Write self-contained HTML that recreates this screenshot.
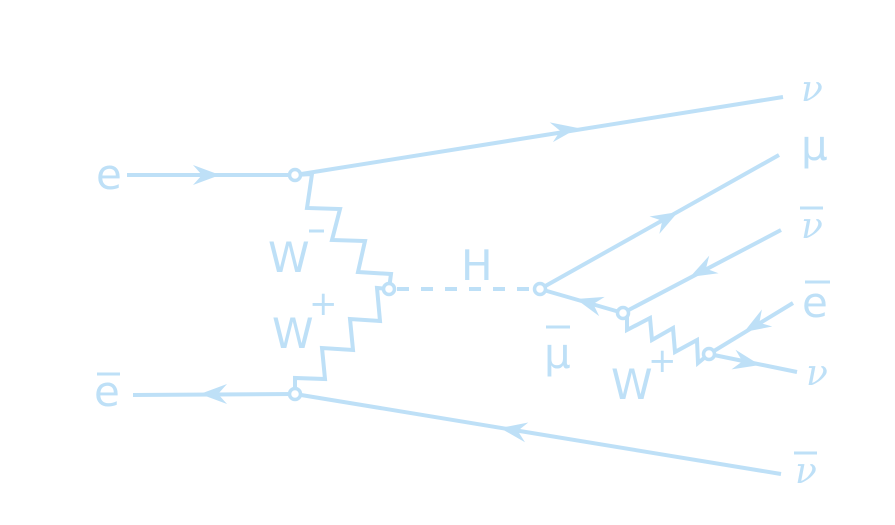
<!DOCTYPE html>
<html><head><meta charset="utf-8"><style>
html,body{margin:0;padding:0;background:#fff;}
svg{display:block;}
text{fill:#bee0f7;font-family:"DejaVu Sans","Liberation Sans",sans-serif;font-size:42px;font-weight:normal;}
.g{font-family:"DejaVu Serif","Liberation Serif",serif;font-style:italic;font-size:36px;}
.s{font-size:34px;}
</style></head><body>
<svg id="c" width="895" height="525" viewBox="0 0 895 525" xmlns="http://www.w3.org/2000/svg">
<g fill="none" stroke="#bee0f7" stroke-width="4" stroke-linejoin="miter">
<line x1="127" y1="175" x2="295" y2="175"/>
<line x1="295" y1="175" x2="783" y2="97"/>
<line x1="133" y1="395" x2="295" y2="394"/>
<line x1="295" y1="394" x2="781" y2="474"/>
<line x1="540" y1="289" x2="779" y2="155"/>
<line x1="781" y1="230" x2="623" y2="313"/>
<line x1="623" y1="313" x2="540" y2="289"/>
<line x1="793" y1="303" x2="709" y2="354"/>
<line x1="709" y1="354" x2="797" y2="372"/>
<polyline points="295,175 312,174 307,208 340,209 332,240 365,241 358,272 391,274 389,289"/>
<polyline points="389,289 377,288 380,321 350,319 353,350 322,348 325,379 295,378 295,394"/>
<polyline points="623,313 627,318 627,330 650,318 652,340 673,328 675,352 697,340 698,363 709,354"/>
<line x1="389" y1="289" x2="540" y2="289" stroke-dasharray="12,12" stroke-dashoffset="-8"/>
</g>
<g id="arrows" fill="#bee0f7"></g>
<g fill="#fff" stroke="#bee0f7" stroke-width="3.5">
<circle cx="295" cy="175" r="5.5"/>
<circle cx="389" cy="289" r="5.5"/>
<circle cx="295" cy="394" r="5.5"/>
<circle cx="540" cy="289" r="5.5"/>
<circle cx="623" cy="313" r="5.5"/>
<circle cx="709" cy="354" r="5.5"/>
</g>
<text x="96" y="189">e</text>
<text x="94" y="406">e</text>
<line x1="97" y1="374" x2="120" y2="374" stroke="#bee0f7" stroke-width="3"/>
<text x="268" y="272">W</text>
<line x1="309" y1="231" x2="324" y2="231" stroke="#bee0f7" stroke-width="3"/>
<text x="272" y="348">W</text>
<text class="s" x="309" y="315">+</text>
<text x="461" y="280">H</text>
<text x="544" y="368">μ</text>
<line x1="546" y1="327" x2="570" y2="327" stroke="#bee0f7" stroke-width="3"/>
<text x="611" y="399">W</text>
<text class="s" x="648" y="372">+</text>
<text class="g" x="801" y="101">ν</text>
<text x="801" y="160">μ</text>
<text class="g" x="801" y="238">ν</text>
<line x1="800" y1="208" x2="823" y2="208" stroke="#bee0f7" stroke-width="3"/>
<text x="802" y="317">e</text>
<line x1="805" y1="282" x2="830" y2="282" stroke="#bee0f7" stroke-width="3"/>
<text class="g" x="806" y="385">ν</text>
<text class="g" x="795" y="483">ν</text>
<line x1="794" y1="453" x2="817" y2="453" stroke="#bee0f7" stroke-width="3"/>
</svg>
<script>
const arrowTips = [[220,175,1,0],[578,128,783-295,97-175],[200,394,-1,0],[500,428,295-781,394-474],[678,212,779-540,155-289],[690,277,623-781,313-230],[576,299,540-623,289-313],[744,332,709-793,354-303],[760,365,797-709,372-354]];
const g = document.getElementById('arrows');
arrowTips.forEach((a,i)=>{
  const L=Math.hypot(a[2],a[3]), ux=a[2]/L, uy=a[3]/L, px=-uy, py=ux;
  const tx=a[0], ty=a[1], len=27, w=10, n=18;
  const p=[[tx,ty],[tx-ux*len+px*w,ty-uy*len+py*w],[tx-ux*n,ty-uy*n],[tx-ux*len-px*w,ty-uy*len-py*w]];
  const el=document.createElementNS('http://www.w3.org/2000/svg','polygon');
  el.setAttribute('points',p.map(q=>q.join(',')).join(' '));
  
  
  g.appendChild(el);
});
</script>
</body></html>
